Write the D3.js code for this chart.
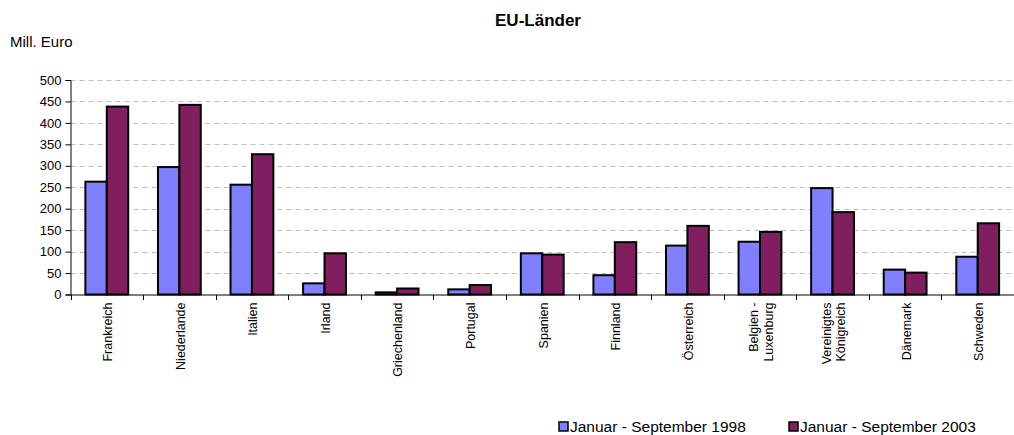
<!DOCTYPE html>
<html><head><meta charset="utf-8">
<script src="https://cdn.jsdelivr.net/npm/d3@7"></script>
<style>body{margin:0;background:#fff}svg{display:block;font-family:"Liberation Sans",Arial,sans-serif}</style>
</head><body><svg id="c" width="1014" height="435"></svg>
<script>
const categories = ["Frankreich","Niederlande","Italien","Irland","Griechenland","Portugal","Spanien","Finnland","Österreich","Belgien -\nLuxenburg","Vereinigtes\nKönigreich","Dänemark","Schweden"];
const seriesNames = ["Januar - September 1998","Januar - September 2003"];
const values1998 = [263,297,256,26,5,12,96,45,114,123,248,58,88];
const values2003 = [438,442,327,96,14,22,93,122,160,146,192,51,166];
const yTicks = [0,50,100,150,200,250,300,350,400,450,500];
const colors = ["#8080FF","#7F1F5F"];

const svg = d3.select("#c");
const pLeft = 70.5, pRight = 1014, pTop = 80, pBottom = 294.5;
const xb = d3.scaleBand().domain(categories).range([pLeft, pRight]);
const groupW = xb.bandwidth() * 0.59;
const xs = d3.scaleBand().domain([0,1]).range([0, groupW]);
const y = d3.scaleLinear().domain([0,500]).range([pBottom, pTop]);

// gridlines
svg.append("g").selectAll("line").data(yTicks.filter(d=>d>0)).join("line")
  .attr("x1", pLeft).attr("x2", pRight).attr("y1", d=>Math.round(y(d))+0.5).attr("y2", d=>Math.round(y(d))+0.5)
  .attr("stroke","#c0c0c0").attr("stroke-dasharray","5,4");

// y axis
const ya = svg.append("g").attr("transform",`translate(${pLeft},0)`)
  .call(d3.axisLeft(y).tickValues(yTicks).tickSize(5).tickPadding(4));
ya.select(".domain").attr("stroke","#000");
ya.selectAll("text").attr("font-size","13px").attr("fill","#000").attr("font-family","Liberation Sans, Arial, sans-serif");

// bars
const series = [values1998, values2003];
series.forEach((vals, si) => {
  svg.append("g").selectAll("rect").data(categories).join("rect")
    .attr("x", (c)=> xb(c) + (xb.bandwidth()-groupW)/2 + xs(si))
    .attr("y", (c,i)=> y(vals[i]))
    .attr("width", xs.bandwidth())
    .attr("height", (c,i)=> pBottom - y(vals[i]))
    .attr("fill", colors[si]).attr("stroke","#000").attr("stroke-width",2);
});

// x axis line and ticks
const xa = svg.append("g").attr("transform",`translate(0,${pBottom+0.5})`);
xa.append("line").attr("x1",pLeft).attr("x2",pRight).attr("stroke","#000");
xa.selectAll("line.t").data(categories.concat([null])).join("line").attr("class","t")
  .attr("x1",(c,i)=> Math.round(pLeft + i*xb.bandwidth())+0.5).attr("x2",(c,i)=> Math.round(pLeft + i*xb.bandwidth())+0.5)
  .attr("y1",0).attr("y2",5).attr("stroke","#000");

// category labels
categories.forEach(c => {
  const lines = c.split("\n");
  const cx = xb(c) + xb.bandwidth()/2 + 1;
  const t = svg.append("text").attr("transform",`translate(${cx},${pBottom+8}) rotate(-90)`)
    .attr("text-anchor","end").attr("font-size","12.5px").attr("fill","#000");
  lines.forEach((l, i) => {
    t.append("tspan").attr("x",0)
      .attr("dy", i===0 ? (0.35 - (lines.length-1)*0.575)+"em" : "1.15em").text(l);
  });
});

// title
svg.append("text").attr("x",538).attr("y",26).attr("text-anchor","middle")
  .attr("font-size","17px").attr("font-weight","bold").text("EU-Länder");
svg.append("text").attr("x",10).attr("y",47).attr("font-size","15px").text("Mill. Euro");

// legend
const lx = [559, 789];
seriesNames.forEach((n,i)=>{
  svg.append("rect").attr("x",lx[i]).attr("y",422).attr("width",9).attr("height",9)
    .attr("fill",colors[i]).attr("stroke","#000").attr("stroke-width",1.5);
  svg.append("text").attr("x",lx[i]+11).attr("y",432).attr("font-size","15.5px").text(n);
});
</script></body></html>
